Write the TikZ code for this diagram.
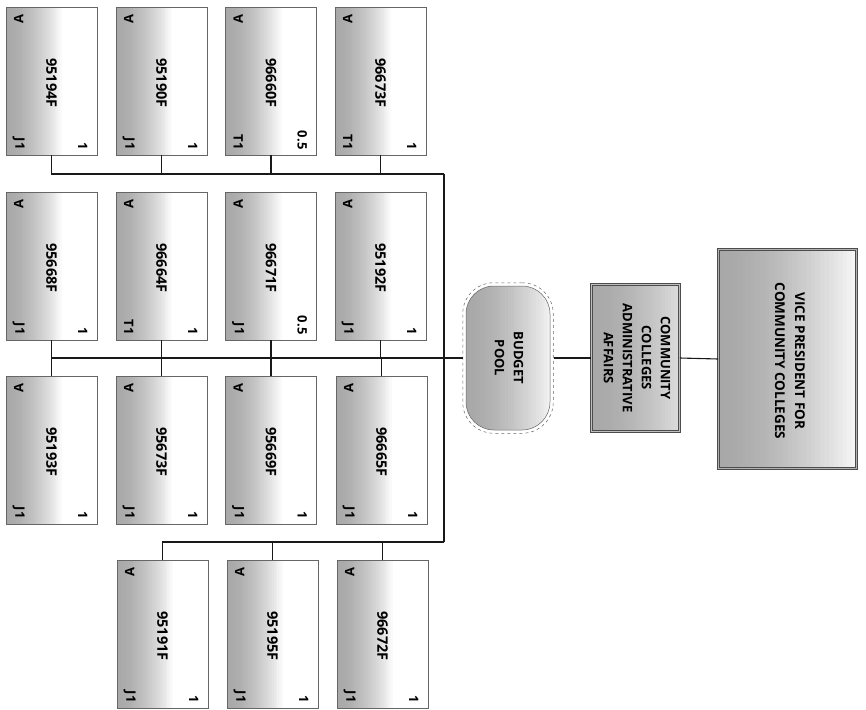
\documentclass[tikz,border=0pt]{standalone}
\usepackage{fontspec}
\setmainfont{Open Sans}
\usetikzlibrary{fit,calc}
\tikzset{
  gshade/.style n args={3}{fill=white, path picture={
     \foreach \i in {0,...,29}{
       \pgfmathsetmacro\cc{#2+(#1-#2)*(1-(\i/29)^1.6)}
       \pgfmathsetmacro\fa{#3*\i/30}
       \pgfmathsetmacro\fb{#3*(\i+1.2)/30}
       \fill[black!\cc, sharp corners]
         ($(path picture bounding box.south west)!\fa!(path picture bounding box.south east)$) rectangle
         ($(path picture bounding box.north west)!\fb!(path picture bounding box.north east)$);}}},
  cbox/.style={rectangle, draw=black!60, line width=0.6pt, gshade={34}{0}{0.64}, minimum width=91pt, minimum height=148pt, inner sep=0pt},
  lbl/.style={inner sep=0pt, font=\bfseries\fontsize{13}{15}\selectfont},
  codetxt/.style={inner sep=0pt, rotate=-90, font=\bfseries\fontsize{14.5}{16}\selectfont},
  conn/.style={line width=1.1pt, draw=black!90},
  midtxt/.style={rotate=-90, align=center, inner sep=0pt, font=\bfseries\fontsize{13}{19}\selectfont},
}
\newcommand\posbox[6]{%
  \node[cbox] (#1) at (#2,#3) {};
  \node[lbl, rotate=90] at ($(#1.north west)+(13,12)$) {A};
  \node[codetxt] at ($(#1.center)+(0,2)$) {#4};
  \node[lbl, rotate=-90, anchor=east] at ($(#1.north west)+(13,143)$) {#5};
  \node[lbl, rotate=-90, anchor=east] at ($(#1.north west)+(77,143)$) {#6};
}
\begin{document}
\begin{tikzpicture}[x=1pt,y=-1pt]
\useasboundingbox (0,0) rectangle (866,709);
% row 1
\posbox{b11}{51.5}{81}{95194F}{J1}{1}
\posbox{b12}{161.5}{81}{95190F}{J1}{1}
\posbox{b13}{271}{81}{96660F}{T1}{0.5}
\posbox{b14}{380.5}{81}{96673F}{T1}{1}
% row 2
\posbox{b21}{51.5}{266}{95668F}{J1}{1}
\posbox{b22}{161.5}{266}{96664F}{T1}{1}
\posbox{b23}{271}{266}{96671F}{J1}{0.5}
\posbox{b24}{380.5}{266}{95192F}{J1}{1}
% row 3
\posbox{b31}{51.5}{450}{95193F}{J1}{1}
\posbox{b32}{161.5}{450}{95673F}{J1}{1}
\posbox{b33}{271}{450}{95669F}{J1}{1}
\posbox{b34}{381.5}{450}{96665F}{J1}{1}
% row 4
\posbox{b42}{162.5}{634}{95191F}{J1}{1}
\posbox{b43}{272.5}{634}{95195F}{J1}{1}
\posbox{b44}{382.5}{634}{96672F}{J1}{1}
% right side
\node[rectangle, rounded corners=28pt, draw=black!60, line width=0.5pt, gshade={34}{6}{1}, minimum width=84pt, minimum height=144pt, inner sep=0pt] (bp) at (508,358) {};
\node[fit=(bp), inner sep=3pt, rounded corners=31pt, draw=black!60, dashed, line width=0.5pt] (bpo) {};
\node[midtxt] at (509,358) {BUDGET\\POOL};
\node[rectangle, draw=black!70, line width=0.6pt, double=black!25, double distance=1.6pt, gshade={34}{14}{1}, minimum width=88pt, minimum height=147pt, inner sep=0pt] (cc) at (635.5,358) {};
\node[midtxt] at (637,358) {COMMUNITY\\COLLEGES\\ADMINISTRATIVE\\AFFAIRS};
\node[rectangle, draw=black!70, line width=0.6pt, double=black!30, double distance=1.6pt, gshade={34}{4}{1}, minimum width=138pt, minimum height=219pt, inner sep=0pt] (vp) at (787.5,359) {};
\node[midtxt, font=\bfseries\fontsize{13.5}{20}\selectfont] at (790,361) {VICE PRESIDENT FOR\\COMMUNITY COLLEGES};
% connectors
\coordinate (t1) at (444,174);
\coordinate (t2) at (444,358);
\coordinate (t3) at (444,542);
\draw[conn] (t1) -- (t3);
\foreach \b in {b11,b12,b13,b14} \draw[conn] (\b.south) |- (t1);
\foreach \b in {b21,b22,b23,b24} \draw[conn] (\b.south) |- (t2);
\foreach \b in {b31,b32,b33,b34} \draw[conn] (\b.north) |- (t2);
\foreach \b in {b42,b43,b44} \draw[conn] (\b.north) |- (t3);
\draw[conn] (t2) -- (bpo.west);
\draw[conn] (bpo.east) -- (cc.west);
\draw[conn] (cc.east) -- (vp.west);
\end{tikzpicture}
\end{document}
